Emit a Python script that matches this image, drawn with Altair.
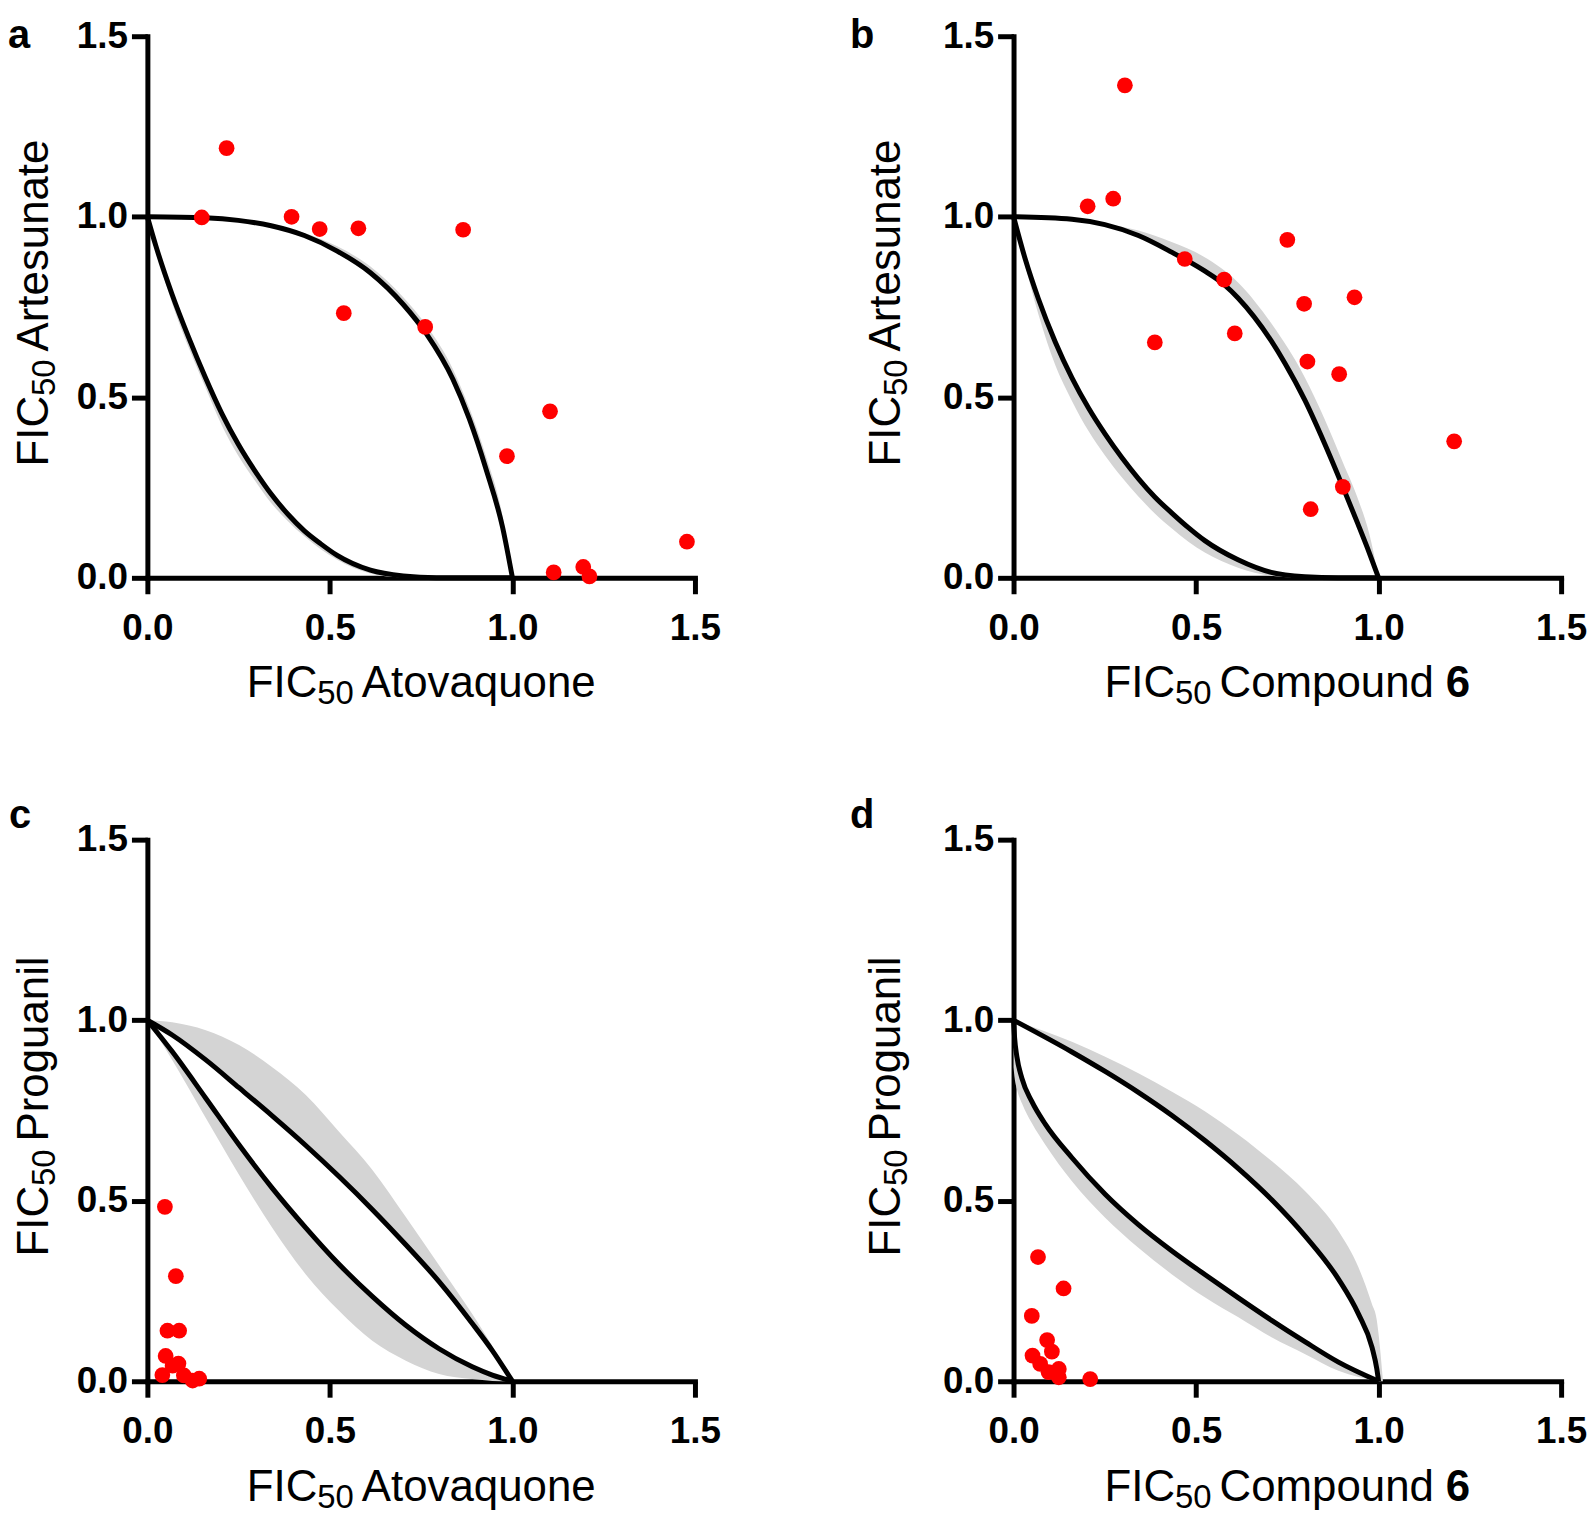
import altair as alt
import pandas as pd

# ---------------- data ----------------
# Panel a : FIC50 Atovaquone (x) vs FIC50 Artesunate (y)
a_pts_x = [0.149, 0.217, 0.395, 0.472, 0.538, 0.578, 0.761, 0.865, 0.985, 1.103, 1.113, 1.194, 1.211, 1.478]
a_pts_y = [0.998, 1.190, 1.000, 0.966, 0.733, 0.968, 0.695, 0.964, 0.337, 0.461, 0.015, 0.030, 0.004, 0.100]
a_up_x = [0, 0.158, 0.249, 0.339, 0.430, 0.520, 0.611, 0.701, 0.765, 0.837, 0.882, 0.928, 0.973, 1.0]
a_up_y = [1, 0.997, 0.990, 0.975, 0.948, 0.905, 0.845, 0.757, 0.675, 0.550, 0.440, 0.300, 0.140, 0]
a_lo_x = [0, 0.023, 0.068, 0.113, 0.158, 0.204, 0.249, 0.294, 0.339, 0.385, 0.430, 0.475, 0.520, 0.611, 0.701, 0.792, 1.0]
a_lo_y = [1, 0.920, 0.784, 0.666, 0.557, 0.455, 0.370, 0.297, 0.232, 0.176, 0.130, 0.094, 0.062, 0.021, 0.005, 0, 0]
a_upband_x = [0.339, 0.430, 0.520, 0.611, 0.701, 0.765, 0.837, 0.882, 0.928, 0.973, 1.0]
a_upband_in = [0.975, 0.948, 0.905, 0.845, 0.757, 0.675, 0.550, 0.440, 0.300, 0.140, 0]
a_upband_out = [0.977, 0.955, 0.918, 0.862, 0.777, 0.698, 0.578, 0.470, 0.335, 0.170, 0]
a_loband_x = [0, 0.068, 0.113, 0.158, 0.204, 0.249, 0.294, 0.339, 0.385, 0.430, 0.520, 0.611, 0.701, 0.792]
a_loband_in = [1, 0.784, 0.666, 0.557, 0.455, 0.370, 0.297, 0.232, 0.176, 0.130, 0.062, 0.021, 0.005, 0]
a_loband_out = [1, 0.760, 0.638, 0.530, 0.422, 0.338, 0.270, 0.207, 0.157, 0.115, 0.050, 0.012, 0.001, 0]

# Panel b : FIC50 Compound 6 (x) vs FIC50 Artesunate (y)
b_pts_x = [0.203, 0.273, 0.305, 0.387, 0.469, 0.577, 0.606, 0.750, 0.796, 0.805, 0.934, 0.892, 0.902, 0.814, 1.207]
b_pts_y = [1.029, 1.050, 1.364, 0.652, 0.883, 0.826, 0.677, 0.936, 0.759, 0.599, 0.777, 0.564, 0.252, 0.190, 0.378]
b_up_x = [0, 0.160, 0.250, 0.342, 0.433, 0.520, 0.577, 0.615, 0.706, 0.743, 0.798, 0.852, 0.902, 0.943, 0.975, 1.0]
b_up_y = [1, 0.993, 0.978, 0.948, 0.902, 0.852, 0.812, 0.775, 0.656, 0.595, 0.492, 0.372, 0.252, 0.150, 0.068, 0]
b_lo_x = [0, 0.032, 0.068, 0.114, 0.160, 0.205, 0.251, 0.296, 0.342, 0.387, 0.433, 0.479, 0.524, 0.615, 0.706, 0.798, 0.889, 1.0]
b_lo_y = [1, 0.883, 0.773, 0.654, 0.554, 0.471, 0.398, 0.334, 0.275, 0.224, 0.180, 0.139, 0.103, 0.050, 0.015, 0.003, 0, 0]
b_upband_x = [0.250, 0.342, 0.433, 0.520, 0.615, 0.706, 0.798, 0.852, 0.902, 0.943, 0.975, 1.0]
b_upband_in = [0.978, 0.948, 0.902, 0.852, 0.775, 0.656, 0.492, 0.372, 0.252, 0.150, 0.068, 0]
b_upband_out = [0.980, 0.962, 0.930, 0.890, 0.818, 0.705, 0.555, 0.440, 0.320, 0.220, 0.120, 0]
b_loband_x = [0, 0.068, 0.114, 0.160, 0.205, 0.251, 0.296, 0.342, 0.387, 0.433, 0.479, 0.524, 0.615, 0.706, 0.798]
b_loband_in = [1, 0.773, 0.654, 0.554, 0.471, 0.398, 0.334, 0.275, 0.224, 0.180, 0.139, 0.103, 0.050, 0.015, 0.003]
b_loband_out = [1, 0.730, 0.590, 0.490, 0.407, 0.338, 0.279, 0.225, 0.178, 0.137, 0.100, 0.070, 0.028, 0.006, 0]

# Panel c : FIC50 Atovaquone (x) vs FIC50 Proguanil (y)
c_pts_x = [0.048, 0.078, 0.055, 0.087, 0.050, 0.085, 0.069, 0.041, 0.100, 0.124, 0.142]
c_pts_y = [0.483, 0.291, 0.140, 0.140, 0.070, 0.049, 0.043, 0.017, 0.016, 0.002, 0.007]
c_x = [0, 0.068, 0.160, 0.251, 0.342, 0.434, 0.525, 0.616, 0.708, 0.799, 0.890, 0.945, 1.0]
c_up_y = [1, 0.959, 0.890, 0.813, 0.735, 0.653, 0.567, 0.476, 0.378, 0.276, 0.160, 0.085, 0]
c_lo_y = [1, 0.913, 0.784, 0.655, 0.535, 0.425, 0.324, 0.235, 0.155, 0.090, 0.040, 0.017, 0]
c_upband_out = [1, 0.994, 0.972, 0.931, 0.870, 0.793, 0.691, 0.586, 0.455, 0.321, 0.186, 0.097, 0]
c_loband_out = [1, 0.890, 0.729, 0.572, 0.425, 0.296, 0.195, 0.112, 0.057, 0.020, 0.006, 0.001, 0]

# Panel d : FIC50 Compound 6 (x) vs FIC50 Proguanil (y)
d_pts_x = [0.067, 0.137, 0.050, 0.092, 0.105, 0.052, 0.073, 0.124, 0.096, 0.124, 0.210]
d_pts_y = [0.344, 0.257, 0.181, 0.114, 0.082, 0.071, 0.048, 0.034, 0.025, 0.011, 0.006]
d_up_x = [0, 0.160, 0.251, 0.342, 0.434, 0.525, 0.616, 0.708, 0.799, 0.890, 0.945, 0.982, 0.995, 1.0]
d_up_y = [1, 0.912, 0.858, 0.800, 0.736, 0.666, 0.589, 0.502, 0.402, 0.283, 0.186, 0.094, 0.035, 0]
d_lo_x = [0, 0.003, 0.009, 0.023, 0.050, 0.087, 0.160, 0.251, 0.342, 0.434, 0.525, 0.616, 0.708, 0.799, 0.890, 1.0]
d_lo_y = [1, 0.950, 0.900, 0.839, 0.775, 0.712, 0.619, 0.518, 0.434, 0.361, 0.295, 0.231, 0.168, 0.109, 0.053, 0]
d_upband_x = [0, 0.160, 0.251, 0.342, 0.434, 0.525, 0.616, 0.708, 0.799, 0.890, 0.945, 0.982, 0.995, 1.0, 1.012]
d_upband_in = [1, 0.912, 0.858, 0.800, 0.736, 0.666, 0.589, 0.502, 0.402, 0.283, 0.186, 0.094, 0.035, 0, 0]
d_upband_out = [1, 0.940, 0.899, 0.853, 0.802, 0.747, 0.683, 0.609, 0.526, 0.416, 0.315, 0.213, 0.170, 0.130, 0]
d_loband_out = [0.870, 0.840, 0.810, 0.770, 0.715, 0.655, 0.554, 0.453, 0.370, 0.296, 0.232, 0.177, 0.121, 0.075, 0.029, 0]

tick_values = [0.0, 0.5, 1.0, 1.5]
axis_domain = [0, 1.5]

# ---------------- styling ----------------
FONT = "Liberation Sans, Arial, Helvetica, sans-serif"
W, H = 550, 544
TITLE_SIZE = 44
SUB_SIZE = 33
SUB_DY = 7
GAP = 8
LETTER_SIZE = 40
BAND_COLOR = "#d4d4d4"

# Arial advance widths (per 1000 em)
AW = {"F": 611, "I": 278, "C": 722, "A": 667, "P": 667, "t": 278, "o": 556, "v": 500,
      "a": 556, "q": 556, "u": 556, "n": 556, "e": 556, "r": 333, "s": 500, "g": 556,
      "i": 222, "l": 222, "m": 833, "p": 556, "d": 556}


def tw(s, size):
    return sum(AW.get(ch, 556) for ch in s) * size / 1000.0


def one_text(s, x, y, size, weight="normal", angle=0):
    return alt.Chart(pd.DataFrame({"k": [0]})).mark_text(
        text=s, fontSize=size, fontWeight=weight, font=FONT, color="black",
        align="left", baseline="alphabetic", angle=angle
    ).encode(x=alt.value(x), y=alt.value(y))


def title_parts(name, bold_suffix=None):
    parts = [("FIC", TITLE_SIZE, "normal", 0), ("50", SUB_SIZE, "normal", SUB_DY),
             (None, GAP, None, 0), (name, TITLE_SIZE, "normal", 0)]
    if bold_suffix:
        parts += [(None, GAP + 4, None, 0), (bold_suffix, TITLE_SIZE, "bold", 0)]
    return parts


def part_w(p):
    s, size, w, dy = p
    return size if s is None else tw(s, size)


def x_title(parts, cx, base_y):
    total = sum(part_w(p) for p in parts)
    x = cx - total / 2.0
    out = []
    for p in parts:
        s, size, w, dy = p
        if s is not None:
            out.append(one_text(s, x, base_y + dy, size, w))
        x += part_w(p)
    return out


def y_title(parts, base_x, cy):
    total = sum(part_w(p) for p in parts)
    y = cy + total / 2.0
    out = []
    for p in parts:
        s, size, w, dy = p
        if s is not None:
            out.append(one_text(s, base_x + dy, y, size, w, angle=270))
        y -= part_w(p)
    return out


xs = alt.Scale(domain=axis_domain, nice=False, zero=False)
ys = alt.Scale(domain=axis_domain, nice=False, zero=False)
xaxis = alt.Axis(values=tick_values, format=".1f", title=None, labelPadding=17,
                 grid=False, labelFlush=False, labelOverlap=False)
yaxis = alt.Axis(values=tick_values, format=".1f", title=None, labelPadding=4,
                 grid=False, labelFlush=False, labelOverlap=False)


def panel(pts_x, pts_y, curves, bands, xparts, yparts, letter, letter_x, letter_y, ytitle_x):
    curve_rows = []
    for ci, (cx, cy) in enumerate(curves):
        for xv, yv in zip(cx, cy):
            curve_rows.append({"x": xv, "y": yv, "curve": ci})
    band_rows = []
    for bi, (bx, bin_, bout) in enumerate(bands):
        for xv, lo, hi in zip(bx, bin_, bout):
            band_rows.append({"x": xv, "lo": lo, "hi": hi, "band": bi})
    pts = pd.DataFrame({"x": pts_x, "y": pts_y})

    band_layer = alt.Chart(pd.DataFrame(band_rows)).mark_area(
        color=BAND_COLOR, interpolate="monotone", orient="vertical", opacity=1
    ).encode(
        x=alt.X("x:Q", scale=xs, axis=xaxis),
        y=alt.Y("lo:Q", scale=ys, axis=yaxis),
        y2="hi:Q",
        detail="band:N",
    )
    line_layer = alt.Chart(pd.DataFrame(curve_rows)).mark_line(
        color="black", strokeWidth=5, interpolate="monotone"
    ).encode(
        x=alt.X("x:Q", scale=xs, axis=xaxis),
        y=alt.Y("y:Q", scale=ys, axis=yaxis),
        detail="curve:N",
    )
    pt_layer = alt.Chart(pts).mark_circle(size=250, color="#ff0000", opacity=1).encode(
        x=alt.X("x:Q", scale=xs, axis=xaxis),
        y=alt.Y("y:Q", scale=ys, axis=yaxis),
    )
    texts = []
    texts += x_title(xparts, W / 2.0, H + 120)
    texts += y_title(yparts, ytitle_x, H / 2.0 - 4)
    texts.append(one_text(letter, letter_x, letter_y, LETTER_SIZE, "bold"))
    return alt.layer(band_layer, line_layer, pt_layer, *texts).properties(width=W, height=H)


pa = panel(a_pts_x, a_pts_y,
           [(a_up_x, a_up_y), (a_lo_x, a_lo_y)],
           [(a_upband_x, a_upband_in, a_upband_out), (a_loband_x, a_loband_in, a_loband_out)],
           title_parts("Atovaquone"), title_parts("Artesunate"), "a", -140, 12, -100)
pb = panel(b_pts_x, b_pts_y,
           [(b_up_x, b_up_y), (b_lo_x, b_lo_y)],
           [(b_upband_x, b_upband_in, b_upband_out), (b_loband_x, b_loband_in, b_loband_out)],
           title_parts("Compound", "6"), title_parts("Artesunate"), "b", -164.3, 12, -114)
pc = panel(c_pts_x, c_pts_y,
           [(c_x, c_up_y), (c_x, c_lo_y)],
           [(c_x, c_up_y, c_upband_out), (c_x, c_lo_y, c_loband_out)],
           title_parts("Atovaquone"), title_parts("Proguanil"), "c", -139, -12, -100)
pd_ = panel(d_pts_x, d_pts_y,
            [(d_up_x, d_up_y), (d_lo_x, d_lo_y)],
            [(d_upband_x, d_upband_in, d_upband_out), (d_lo_x, d_lo_y, d_loband_out)],
            title_parts("Compound", "6"), title_parts("Proguanil"), "d", -164.3, -12, -114)

chart = alt.concat(
    pa, pb, pc, pd_, columns=2,
    spacing={"row": 263, "column": 320}, bounds="flush",
).properties(
    padding={"top": 5, "left": 0, "right": 0, "bottom": 0}, background="white"
).configure_view(stroke=None).configure_axis(
    domainColor="black", domainWidth=5, domainCap="square",
    tickColor="black", tickWidth=5, tickSize=16,
    labelFont=FONT, labelFontSize=37, labelFontWeight="bold", labelColor="black",
)

chart.save("out.html", embed_options={"renderer": "svg", "actions": False})
